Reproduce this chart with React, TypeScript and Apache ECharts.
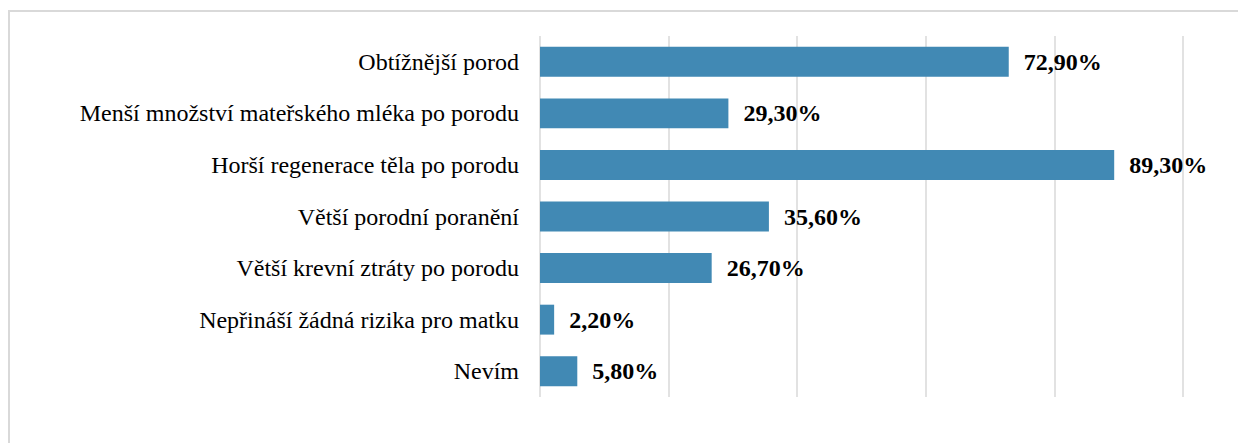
import React, { useEffect, useRef } from "react";
import * as echarts from "echarts";

const categories = [
  "Obtížnější porod",
  "Menší množství mateřského mléka po porodu",
  "Horší regenerace těla po porodu",
  "Větší porodní poranění",
  "Větší krevní ztráty po porodu",
  "Nepřináší žádná rizika pro matku",
  "Nevím",
];
const values = [72.9, 29.3, 89.3, 35.6, 26.7, 2.2, 5.8];

const FONT = "Times New Roman";

export default function App() {
  const ref = useRef<HTMLDivElement>(null);
  useEffect(() => {
    if (!ref.current) return;
    const chart = echarts.init(ref.current, undefined, { renderer: "svg" });
    chart.setOption({
      animation: false,
      backgroundColor: "#ffffff",
      textStyle: { fontFamily: FONT },
      graphic: [
        {
          type: "rect",
          shape: { x: 1, y: 3, width: 1400, height: 600 },
          style: { fill: "none", stroke: "#d9d9d9", lineWidth: 2 },
          silent: true,
        },
      ],
      grid: { left: 532, right: 63, top: 28, bottom: 46, containLabel: false },
      xAxis: {
        type: "value",
        min: 0,
        max: 100,
        interval: 20,
        axisLabel: { show: false },
        axisLine: { show: false },
        axisTick: { show: false },
        splitLine: { show: true, lineStyle: { color: "#d9d9d9", width: 1.5 } },
      },
      yAxis: {
        type: "category",
        inverse: true,
        data: categories,
        axisLine: { show: false },
        axisTick: { show: false },
        axisLabel: {
          margin: 21,
          fontFamily: FONT,
          fontSize: 24,
          color: "#000000",
        },
      },
      series: [
        {
          type: "bar",
          data: values,
          barCategoryGap: "42%",
          itemStyle: { color: "#4189b4" },
          label: {
            show: true,
            position: "right",
            distance: 15,
            fontFamily: FONT,
            fontSize: 24,
            fontWeight: "bold",
            color: "#000000",
            formatter: (p: any) => p.value.toFixed(2).replace(".", ",") + "%",
          },
        },
      ],
    });
    return () => chart.dispose();
  }, []);
  return <div ref={ref} style={{ width: 1238, height: 435 }} />;
}
